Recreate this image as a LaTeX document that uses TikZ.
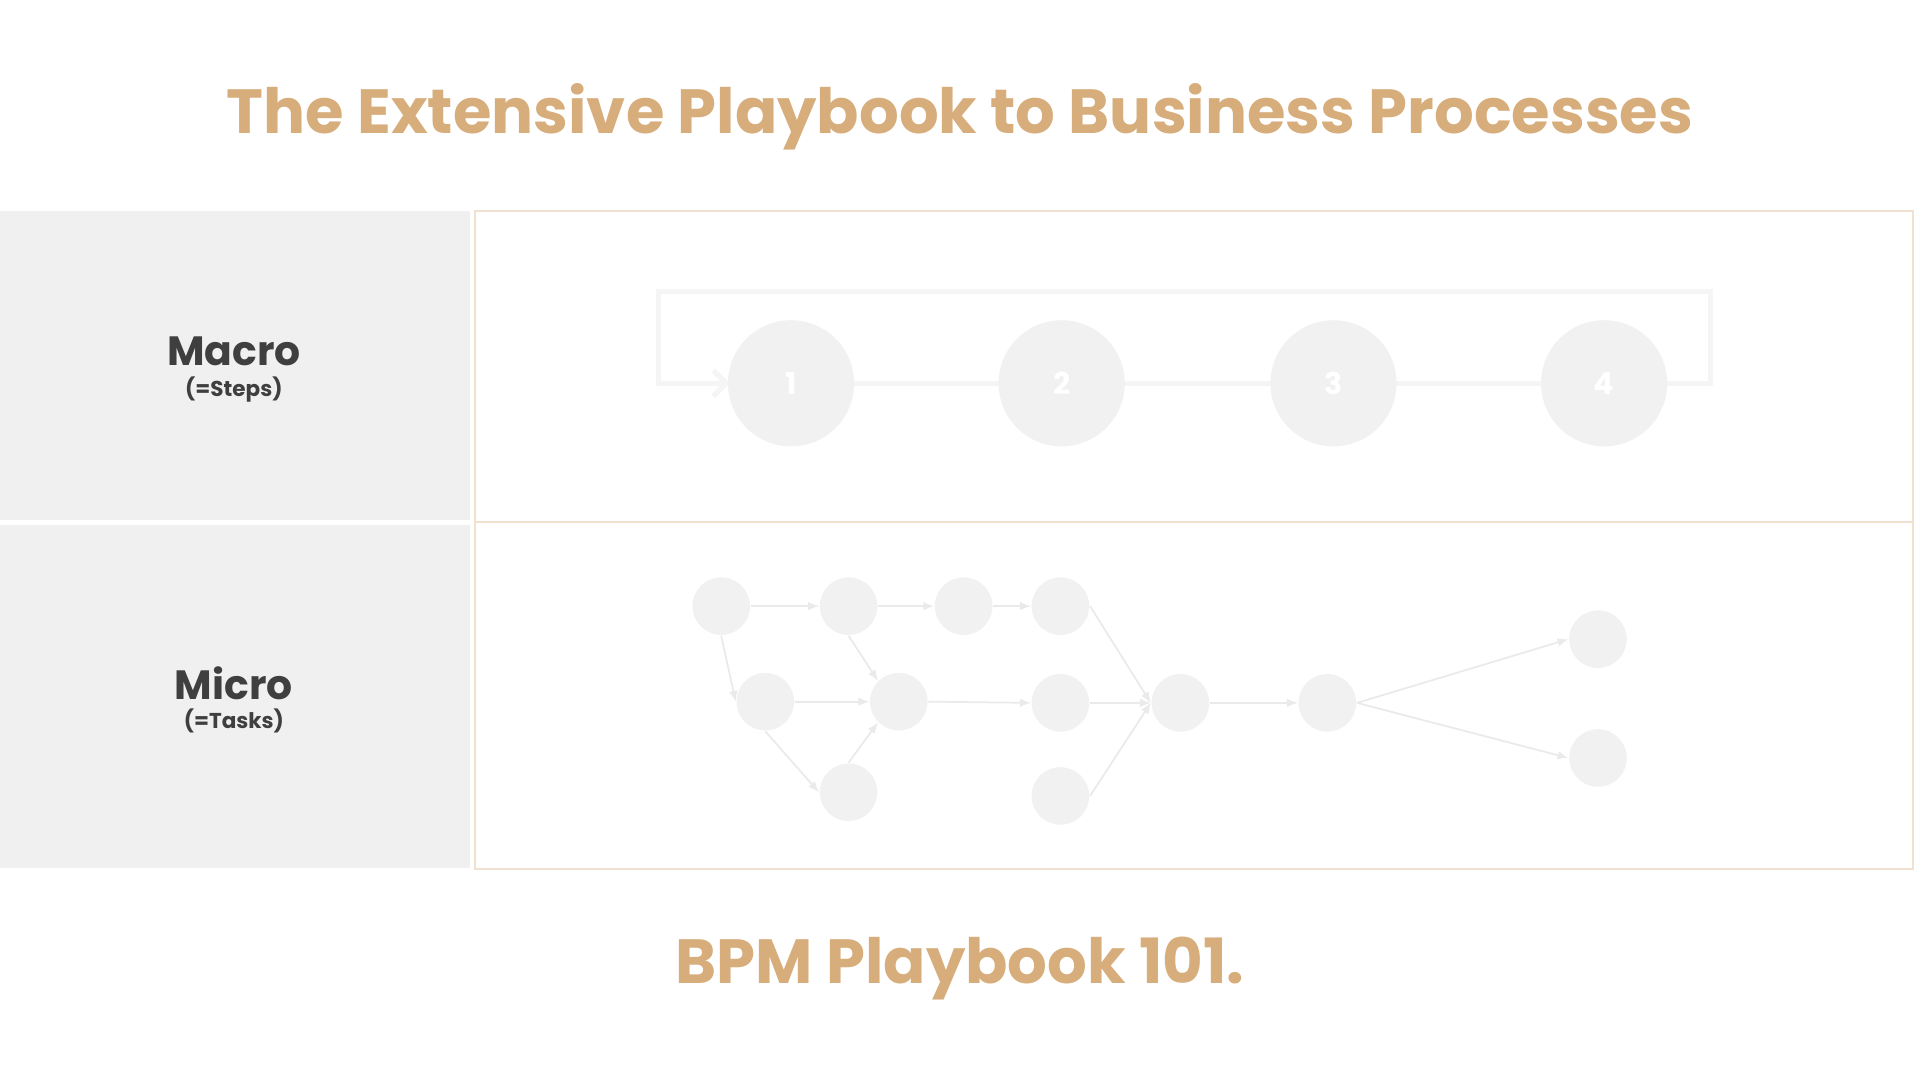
\documentclass[tikz,border=0pt]{standalone}
\usepackage{fontspec}
\setmainfont{Poppins}
\usepackage{xcolor}
\usetikzlibrary{arrows.meta}
\definecolor{tanhead}{HTML}{D6AD7B}
\definecolor{panelgrey}{HTML}{F0F0F0}
\definecolor{boxline}{HTML}{F0E2CE}
\definecolor{nodegrey}{HTML}{F1F1F1}
\definecolor{flowgrey}{HTML}{EAEAEA}
\definecolor{loopgrey}{HTML}{F5F5F5}
\definecolor{labeltext}{HTML}{3F3F3F}

\begin{document}
\begin{tikzpicture}[
    stepnode/.style={circle,fill=nodegrey,minimum size=1.03cm,inner sep=0pt,text=white,font=\bfseries\fontsize{7}{8}\selectfont},
    task/.style={circle,fill=nodegrey,minimum size=0.47cm,inner sep=0pt},
    flow/.style={draw=flowgrey,line width=0.4pt,-{Latex[length=2.5pt,width=2pt]}},
    loop/.style={draw=loopgrey,line width=1.2pt},
    heading/.style={text=tanhead,font=\bfseries\fontsize{14.5}{17}\selectfont},
    bigtag/.style={text=labeltext,font=\bfseries\fontsize{9.5}{11}\selectfont},
    smalltag/.style={text=labeltext,font=\bfseries\fontsize{5}{6}\selectfont}]
                \useasboundingbox[fill=white] (0,0) rectangle (15.68,8.82);
                % title and footer
                \node[heading] (title) at (7.84,7.87) {The Extensive Playbook to Business Processes};
                \node[heading] (footer) at (7.84,0.91) {BPM Playbook 101.};
                % left panels
                \fill[panelgrey] (0,4.57) rectangle (3.84,7.10);
                \fill[panelgrey] (0,1.73) rectangle (3.84,4.53);
                \node[bigtag] (macro) at (1.91,5.95) {Macro};
                \node[smalltag] (steps) at (1.91,5.64) {(=Steps)};
                \node[bigtag] (micro) at (1.91,3.24) {Micro};
                \node[smalltag] (tasks) at (1.91,2.93) {(=Tasks)};
                % right frame
                \draw[boxline,line width=0.5pt] (3.88,1.72) rectangle (15.62,7.10);
                \draw[boxline,line width=0.5pt] (3.88,4.56) -- (15.62,4.56);
                % macro steps
                \coordinate (back1) at (13.97,5.69);
                \coordinate (back2) at (13.97,6.44);
                \coordinate (back3) at (5.38,6.44);
                \coordinate (back4) at (5.38,5.69);
                \draw[loop] (13.61,5.69) -- (back1) -- (back2) -- (back3) -- (back4) -- (5.9,5.69);
                \draw[loop,-{Straight Barb[length=3pt,width=6pt]}] (5.85,5.69) -- (5.96,5.69);
                \draw[loop] (6.9,5.69) -- (12.7,5.69);
                \foreach \n/\x in {1/6.46,2/8.67,3/10.89,4/13.10}
                    \node[stepnode] (s\n) at (\x,5.69) {\n};
                % micro tasks
                \node[task] (a1) at (5.89,3.87) {};
                \node[task] (a2) at (6.93,3.87) {};
                \node[task] (a3) at (7.87,3.87) {};
                \node[task] (a4) at (8.66,3.87) {};
                \node[task] (b1) at (6.25,3.09) {};
                \node[task] (b2) at (7.34,3.09) {};
                \node[task] (b3) at (8.66,3.08) {};
                \node[task] (b4) at (9.64,3.08) {};
                \node[task] (b5) at (10.84,3.08) {};
                \node[task] (c1) at (6.93,2.35) {};
                \node[task] (c2) at (8.66,2.32) {};
                \node[task] (e1) at (13.05,3.60) {};
                \node[task] (e2) at (13.05,2.63) {};
                \foreach \from/\to in {a1.east/a2.west,a2.east/a3.west,a3.east/a4.west,a1.south/b1.west,b1.east/b2.west,b1.south/c1.west,a2.south/b2.north west,c1.north/b2.south west,b2.east/b3.west,a4.east/b4.west,b3.east/b4.west,c2.east/b4.west,b4.east/b5.west,b5.east/e1.west,b5.east/e2.west}
                    \draw[flow] (\from) -- (\to);
            \end{tikzpicture}
\end{document}
